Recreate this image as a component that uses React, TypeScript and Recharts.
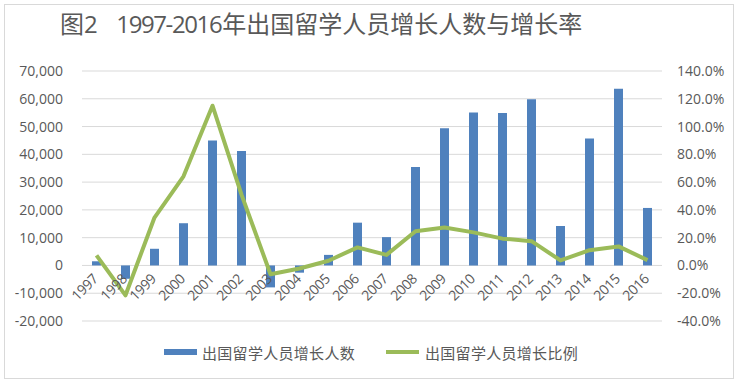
import React from 'react';
import { ComposedChart, Bar, Line, XAxis, YAxis, CartesianGrid } from 'recharts';

const years = ['1997', '1998', '1999', '2000', '2001', '2002', '2003', '2004', '2005', '2006', '2007', '2008', '2009', '2010', '2011', '2012', '2013', '2014', '2015', '2016'];
const increaseCount = [1500, -4800, 6000, 15200, 45000, 41200, -7900, -2600, 3800, 15400, 10200, 35400, 49400, 55100, 54900, 59800, 14200, 45700, 63600, 20700];
const increaseRate = [7.2, -21.5, 34.5, 64.2, 115.0, 51.0, -6.3, -2.2, 3.4, 13.0, 7.6, 24.6, 27.3, 23.8, 19.3, 17.5, 3.6, 11.0, 13.7, 3.8];
const leftTicks = [-20000, -10000, 0, 10000, 20000, 30000, 40000, 50000, 60000, 70000];
const rightTicks = [-40, -20, 0, 20, 40, 60, 80, 100, 120, 140];
const seriesNames = ['出国留学人员增长人数', '出国留学人员增长比例'];
const titleText = ['图2', '1997-2016年出国留学人员增长人数与增长率'];

const data = years.map((y, i) => ({ year: y, count: increaseCount[i], rate: increaseRate[i] }));

const W = 740;
const H = 384;
const M = { top: 71, right: 0, bottom: 33, left: 0 };
const X_AXIS_H = 30;
const PLOT_H = H - M.top - M.bottom - X_AXIS_H;
const LEFT_MIN = leftTicks[0];
const LEFT_MAX = leftTicks[leftTicks.length - 1];
const ZERO_OFFSET = (PLOT_H * (0 - LEFT_MIN)) / (LEFT_MAX - LEFT_MIN);

const BLUE = '#4F81BD';
const GREEN = '#9BBB59';
const TEXT = '#595959';
const FONT = '"Open Sans", "Noto Sans CJK SC", sans-serif';
const CJK = '"Noto Sans CJK SC", sans-serif';

const fmtLeft = (v: number) => v.toLocaleString('en-US');
const fmtRight = (v: number) => `${v.toFixed(1)}%`;

const YearTick = (props: any) => {
  const { x, y, payload } = props;
  const zy = y - ZERO_OFFSET;
  return (
    <g transform={`translate(${x - 1},${zy + 11}) rotate(-45)`}>
      <text x={0} y={0} dy="0.35em" textAnchor="end" fill={TEXT} fontSize={14} fontFamily={FONT} letterSpacing={-0.4}>
        {payload.value}
      </text>
    </g>
  );
};

export default function App() {
  return (
    <div style={{ position: 'absolute', left: 0, top: 0, width: W, height: H, background: '#fff', overflow: 'hidden' }}>
      <div style={{ position: 'absolute', left: 4, top: 4, width: 728, height: 373, border: '1px solid #d9d9d9' }} />
      <div
        style={{
          position: 'absolute',
          left: 60,
          top: 6,
          fontSize: 24,
          color: TEXT,
          fontFamily: FONT,
          whiteSpace: 'pre',
          lineHeight: '34px',
        }}
      >
        <span style={{ fontFamily: CJK }}>{titleText[0].slice(0, 1)}</span>
        <span style={{ letterSpacing: -1.4 }}>{titleText[0].slice(1)}</span>
        <span style={{ marginLeft: 20, letterSpacing: -1.4 }}>{titleText[1].slice(0, 9)}</span>
        <span style={{ fontFamily: CJK, marginLeft: 1 }}>{titleText[1].slice(9)}</span>
      </div>
      <ComposedChart width={W} height={H} data={data} margin={M} style={{ position: 'absolute', left: 0, top: 0 }}>
        <CartesianGrid yAxisId="left" vertical={false} stroke="#d9d9d9" strokeWidth={1} />
        <XAxis
          dataKey="year"
          height={X_AXIS_H}
          axisLine={false}
          tickLine={false}
          tickSize={0}
          tickMargin={0}
          interval={0}
          tick={<YearTick />}
        />
        <YAxis
          yAxisId="left"
          orientation="left"
          width={82}
          domain={[LEFT_MIN, LEFT_MAX]}
          ticks={leftTicks}
          tickFormatter={fmtLeft}
          axisLine={false}
          tickLine={false}
          tickSize={0}
          tickMargin={19}
          tick={{ fill: TEXT, fontSize: 14, fontFamily: FONT }}
          interval={0}
        />
        <YAxis
          yAxisId="right"
          orientation="right"
          width={78}
          domain={[rightTicks[0], rightTicks[rightTicks.length - 1]]}
          ticks={rightTicks}
          tickFormatter={fmtRight}
          axisLine={false}
          tickLine={false}
          tickSize={0}
          tickMargin={15}
          tick={{ fill: TEXT, fontSize: 14, fontFamily: FONT, textAnchor: 'start' }}
          interval={0}
        />
        <Bar yAxisId="left" dataKey="count" name={seriesNames[0]} fill={BLUE} barSize={9} isAnimationActive={false} />
        <Line
          yAxisId="right"
          type="linear"
          dataKey="rate"
          name={seriesNames[1]}
          stroke={GREEN}
          strokeWidth={4}
          dot={false}
          activeDot={false}
          strokeLinejoin="round"
          isAnimationActive={false}
        />
      </ComposedChart>
      <div
        style={{
          position: 'absolute',
          top: 341,
          left: 164,
          display: 'flex',
          alignItems: 'center',
          fontFamily: CJK,
          fontSize: 15,
          letterSpacing: 0.3,
          color: TEXT,
          height: 22,
          whiteSpace: 'nowrap',
        }}
      >
        <span style={{ display: 'inline-block', width: 33, height: 6, background: BLUE, marginRight: 5 }} />
        <span style={{ marginRight: 31 }}>{seriesNames[0]}</span>
        <span style={{ display: 'inline-block', width: 33, height: 4, background: GREEN, marginRight: 6 }} />
        <span>{seriesNames[1]}</span>
      </div>
    </div>
  );
}
